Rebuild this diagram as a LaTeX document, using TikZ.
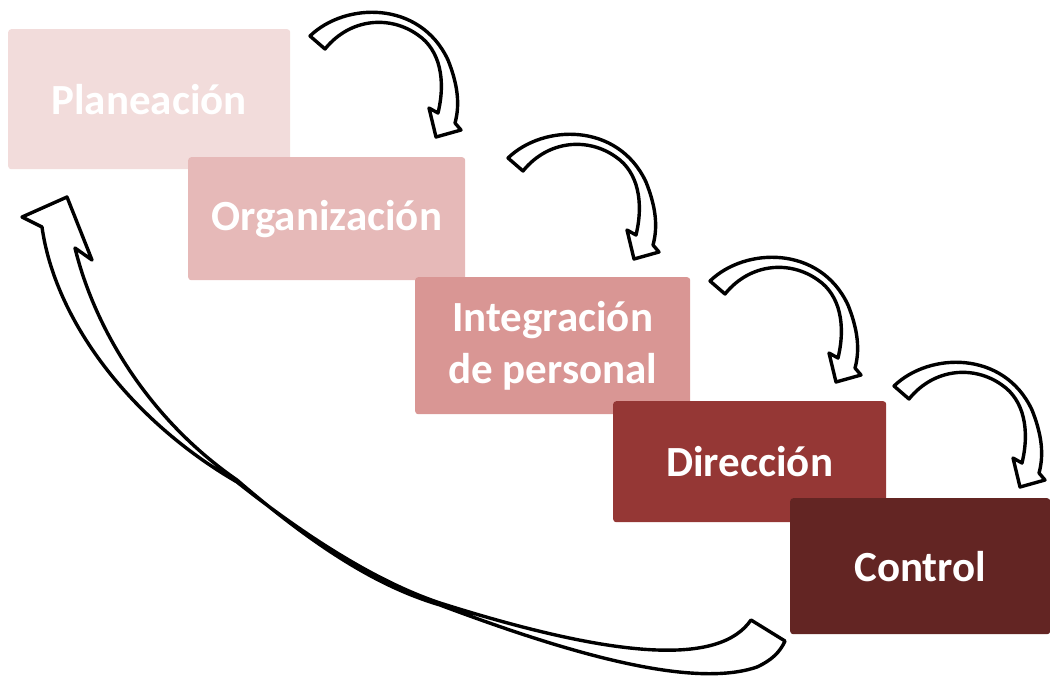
\documentclass[tikz,border=0pt]{standalone}
\usepackage{fontspec}
\setmainfont{Carlito}
\definecolor{plancol}{HTML}{F2DCDB}
\definecolor{orgcol}{HTML}{E6B9B8}
\definecolor{intcol}{HTML}{D99694}
\definecolor{dircol}{HTML}{953735}
\definecolor{ctrlcol}{HTML}{632523}
\tikzset{
  stage/.style={anchor=north west,inner sep=0pt,rounded corners=3pt,text=white,
    font=\fontsize{43}{52}\selectfont\bfseries,align=center},
  blockarrow/.style={draw=black,fill=white,line width=3.4pt,line join=round}
}
\begin{document}
\begin{tikzpicture}[x=1pt,y=-1pt]
\useasboundingbox (0,0) rectangle (1050,681);

\node[stage,fill=plancol,minimum width=282,minimum height=140] (plan) at (8,29) {Planeación};
\node[stage,fill=orgcol,minimum width=277,minimum height=123] (org) at (188,157) {Organización};
\node[stage,fill=intcol,minimum width=275,minimum height=137] (integ) at (415,277) {Integración\\de personal};
\node[stage,fill=dircol,minimum width=273,minimum height=121] (dir) at (613,401) {Dirección};
\node[stage,fill=ctrlcol,minimum width=260,minimum height=136] (ctrl) at (790,498) {Control};

\foreach \dx/\dy in {0/0,198/122,400/245,584/350}{
  \begin{scope}[shift={(\dx,\dy)}]
  \draw[blockarrow] (310,36) .. controls (345,2) and (420,0) .. (448,60)
    .. controls (458,85) and (460,105) .. (455,123) -- (461,130) -- (436,137)
    -- (429,108) -- (438,113) .. controls (446,80) and (440,50) .. (418,35)
    .. controls (390,15) and (350,18) .. (325,49) -- cycle;
  \end{scope}
}

\draw[blockarrow] (42,227) -- (22,217) -- (67,197) -- (92,260) -- (75,248)
  .. controls (95,330) and (150,420) .. (237,480)
  .. controls (330,560) and (390,590) .. (440,605)
  .. controls (560,650) and (690,690) .. (757,667)
  .. controls (772,660) and (780,652) .. (785,641) -- (751,620)
  .. controls (720,665) and (620,660) .. (440,603)
  .. controls (380,583) and (310,540) .. (237,482)
  .. controls (130,420) and (55,320) .. (42,227) -- cycle;
\end{tikzpicture}
\end{document}
